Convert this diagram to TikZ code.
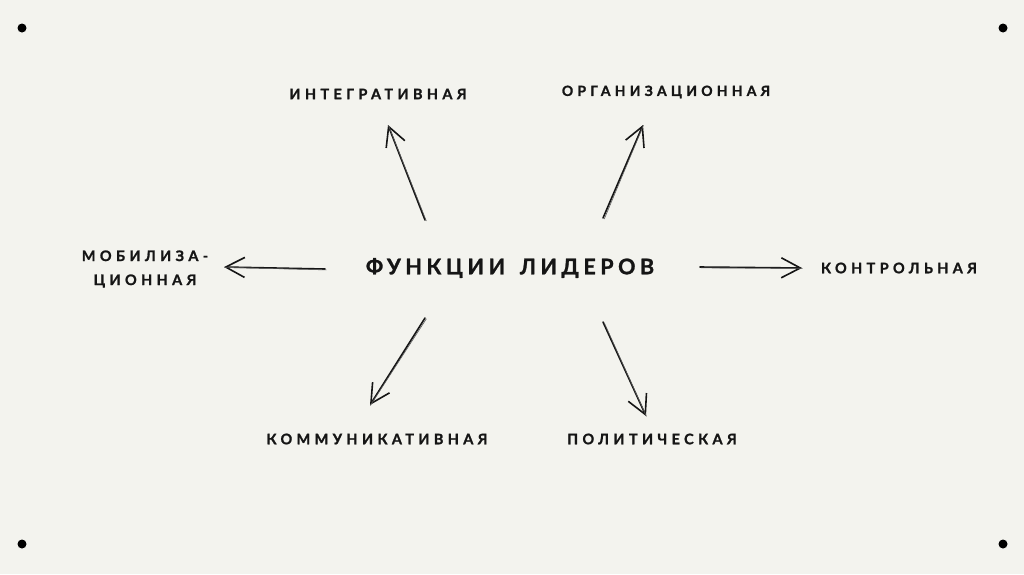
\documentclass[tikz,border=0pt]{standalone}
\usepackage{fontspec}
\setmainfont{Lato}
\newfontfamily\labfont[LetterSpace=30,BoldFeatures={FakeBold=1.2}]{Lato}
\newfontfamily\titfont[LetterSpace=21,BoldFeatures={FakeBold=1.2}]{Lato}
\usetikzlibrary{arrows.meta}
\definecolor{bgc}{HTML}{F3F3EE}
\definecolor{ink}{HTML}{151515}
\tikzset{
  lab/.style={font=\labfont\fontsize{14.5}{24}\bfseries, text=ink, inner sep=0pt, align=center},
  tit/.style={font=\titfont\fontsize{21.5}{24}\bfseries, text=ink, inner sep=0pt},
  sk/.style={draw=ink, line width=1.6pt, line cap=round,
    -{Straight Barb[length=19pt,width=20pt,line width=1.6pt]}},
  skb/.style={draw=ink!70, line width=0.6pt, line cap=round},
  dot/.style={circle, fill=black, inner sep=0pt, minimum size=9pt}
}
\begin{document}
\begin{tikzpicture}[x=1pt,y=-1pt]
\fill[bgc] (0,0) rectangle (1024,574);
\useasboundingbox (0,0) rectangle (1024,574);
\node[dot] (d1) at (22,28) {};
\node[dot] (d2) at (1003,28) {};
\node[dot] (d3) at (22,544) {};
\node[dot] (d4) at (1003,544) {};

\node[tit] (c) at (510,268) {ФУНКЦИИ\hspace{5pt} ЛИДЕРОВ};
\node[lab] (int) at (378,94) {ИНТЕГРАТИВНАЯ};
\node[lab, font=\labfont\fontsize{14}{24}\bfseries] (org) at (666,92) {ОРГАНИЗАЦИОННАЯ};
\node[lab] (mob) at (145,269) {МОБИЛИЗА-\\ЦИОННАЯ};
\node[lab] (kon) at (899,268) {КОНТРОЛЬНАЯ};
\node[lab] (kom) at (377,439) {КОММУНИКАТИВНАЯ};
\node[lab] (pol) at (652,439) {ПОЛИТИЧЕСКАЯ};

\coordinate (a1s) at (425,220); \coordinate (a1e) at (388,125);
\coordinate (a2s) at (603,218); \coordinate (a2e) at (643,125);
\coordinate (a3s) at (325,269); \coordinate (a3e) at (224,267);
\coordinate (a4s) at (700,267); \coordinate (a4e) at (802,268);
\coordinate (a5s) at (425,318); \coordinate (a5e) at (370,405);
\coordinate (a6s) at (603,322); \coordinate (a6e) at (646,416);

\foreach \a in {1,...,6}{
  \draw[sk] (a\a s) -- (a\a e);
  \draw[skb] ([shift={(1.3,0.9)}]a\a s) -- ([shift={(0.4,0.3)}]a\a e);
}
\end{tikzpicture}
\end{document}
